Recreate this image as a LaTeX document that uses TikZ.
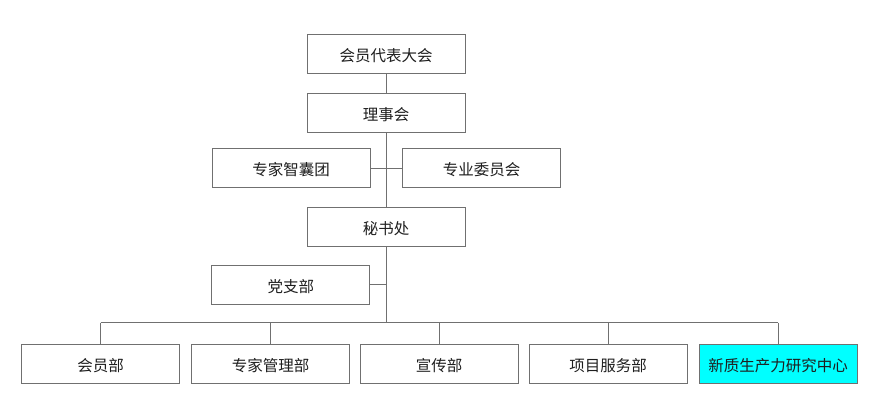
\documentclass[tikz,border=0pt]{standalone}
\usepackage{fontspec}
\newfontfamily\cjk{Noto Sans CJK SC}
\definecolor{boxline}{RGB}{112,112,112}
\definecolor{boxtext}{RGB}{30,30,30}
\definecolor{hicyan}{RGB}{0,255,255}
\tikzset{
  orgbox/.style={draw=boxline, line width=0.9pt, minimum width=158pt, minimum height=39pt,
    inner sep=0pt, text height=15pt, text depth=0pt, text=boxtext, font=\cjk\fontsize{15.5}{15.5}\selectfont},
  hibox/.style={orgbox, fill=hicyan},
  link/.style={draw=boxline, line width=0.9pt}
}
\begin{document}
\begin{tikzpicture}[x=1pt,y=-1pt]
\useasboundingbox (0,0) rectangle (875,416);
\node[orgbox] (dahui) at (386,53.8) {会员代表大会};
\node[orgbox] (lishi) at (386,112.8) {理事会};
\node[orgbox] (zhinang) at (291.2,168) {专家智囊团};
\node[orgbox] (weiyuan) at (481.7,168) {专业委员会};
\node[orgbox] (mishu) at (386,227.2) {秘书处};
\node[orgbox] (dang) at (290.8,284.6) {党支部};
\node[orgbox] (b1) at (100.5,363.8) {会员部};
\node[orgbox] (b2) at (270.5,363.8) {专家管理部};
\node[orgbox] (b3) at (439.2,363.8) {宣传部};
\node[orgbox] (b4) at (608,363.8) {项目服务部};
\node[hibox] (b5) at (778,363.8) {新质生产力研究中心};
\coordinate (busc) at (386,322.5);
\coordinate (busl) at (b1.north |- busc);
\coordinate (busr) at (b5.north |- busc);
\draw[link] (dahui.south) -- (lishi.north);
\draw[link] (lishi.south) -- (mishu.north);
\draw[link] (zhinang.east) -- (weiyuan.west);
\draw[link] (mishu.south) -- (busc);
\draw[link] (dang.east) -- (dang.east -| mishu.south);
\draw[link] (busl) -- (busr);
\foreach \b in {b1,b2,b3,b4,b5} \draw[link] (\b.north |- busc) -- (\b.north);
\end{tikzpicture}
\end{document}
